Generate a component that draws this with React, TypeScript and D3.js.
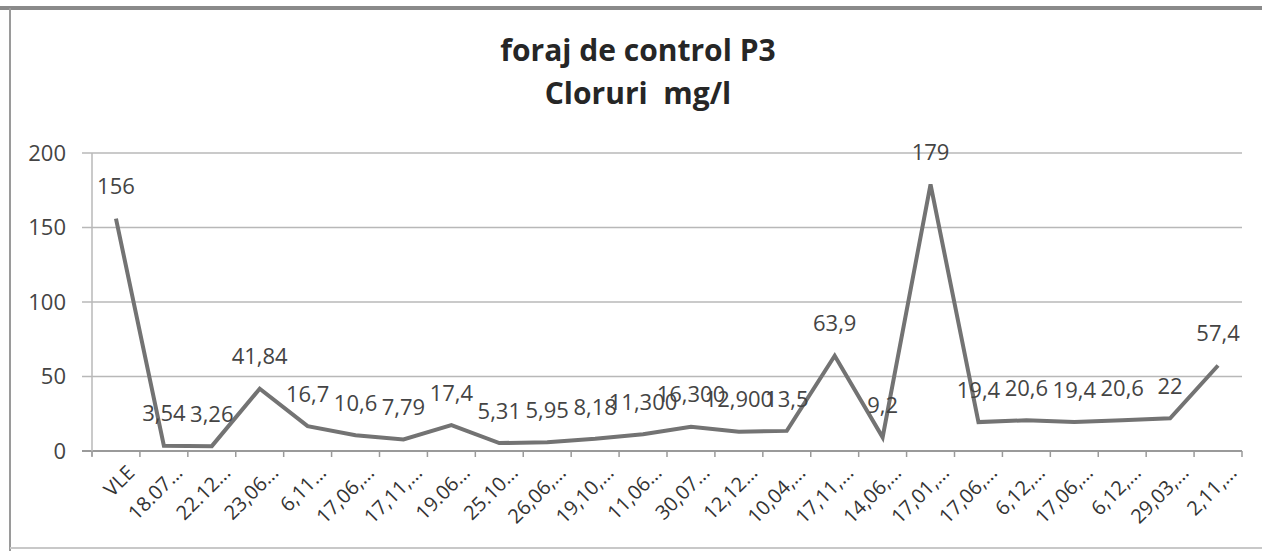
import React from "react";
import * as d3 from "d3";

const categories = ["VLE","18.07...","22.12...","23,06...","6,11...","17,06,...","17,11,...","19.06...","25.10...","26,06,...","19,10,...","11,06...","30,07...","12,12...","10,04,...","17,11,...","14,06,...","17,01,...","17,06,...","6,12,...","17,06,...","6,12,...","29,03,...","2,11,..."];
const values = [156, 3.54, 3.26, 41.84, 16.7, 10.6, 7.79, 17.4, 5.31, 5.95, 8.18, 11.3, 16.3, 12.9, 13.5, 63.9, 9.2, 179, 19.4, 20.6, 19.4, 20.6, 22, 57.4];
const valueLabels = ["156","3,54","3,26","41,84","16,7","10,6","7,79","17,4","5,31","5,95","8,18","11,300","16,300","12,900","13,5","63,9","9,2","179","19,4","20,6","19,4","20,6","22","57,4"];
const yTicks = [0, 50, 100, 150, 200];
const titleLines = ["foraj de control P3", "Cloruri  mg/l"];

const W = 1262, H = 551;
const left = 92, right = 1242, top = 153, bottom = 451;

export default function App() {
  const x = d3.scalePoint<number>().domain(d3.range(values.length)).range([left, right]).padding(0.5);
  const y = d3.scaleLinear().domain([0, 200]).range([bottom, top]);
  const step = x.step();
  const line = d3.line<number>().x((_, i) => x(i)!).y(d => y(d));
  const font = "'Open Sans', Lato, sans-serif";
  return (
    <svg width={W} height={H} style={{ position: "absolute", left: 0, top: 0, background: "#fff" }}>
      <rect x={0} y={0} width={W} height={H} fill="#fff" />
      <line x1={0} x2={W} y1={8} y2={8} stroke="#8a8a8a" strokeWidth={4} />
      <line x1={10} x2={10} y1={8} y2={H} stroke="#9a9a9a" strokeWidth={2} />
      <line x1={10} x2={W} y1={548} y2={548} stroke="#c8c8c8" strokeWidth={2} />
      {titleLines.map((t, i) => (
        <text key={i} x={638} y={61 + i * 43} textAnchor="middle" fontFamily={font} fontWeight="bold" fontSize={30} fill="#262626" style={{ whiteSpace: "pre" }}>{t}</text>
      ))}
      {yTicks.map(t => (
        <g key={t}>
          <line x1={left - 10} x2={right} y1={y(t)} y2={y(t)} stroke={t === 0 ? "#9a9a9a" : "#b8b8b8"} strokeWidth={t === 0 ? 2 : 1.5} />
          <text x={66} y={y(t)} dy="0.35em" textAnchor="end" fontFamily={font} fontSize={22} fill="#444">{t}</text>
        </g>
      ))}
      <line x1={left} x2={left} y1={top} y2={bottom + 5} stroke="#b8b8b8" strokeWidth={1.5} />
      {d3.range(values.length + 1).map(i => {
        const xx = left + i * step;
        return <line key={i} x1={xx} x2={xx} y1={bottom} y2={bottom + 6} stroke="#9a9a9a" strokeWidth={1.5} />;
      })}
      <path d={line(values)!} fill="none" stroke="#737373" strokeWidth={4} strokeLinejoin="miter" />
      {values.map((v, i) => (
        <text key={i} x={x(i)!} y={y(v) - 32} dy="0.35em" textAnchor="middle" fontFamily={font} fontSize={22} fill="#444">{valueLabels[i]}</text>
      ))}
      {categories.map((c, i) => (
        <text key={i} transform={`translate(${x(i)! + 15},${bottom + 18}) rotate(-45)`} textAnchor="end" dy="0.35em" fontFamily={font} fontSize={20} fill="#333">{c}</text>
      ))}
    </svg>
  );
}
